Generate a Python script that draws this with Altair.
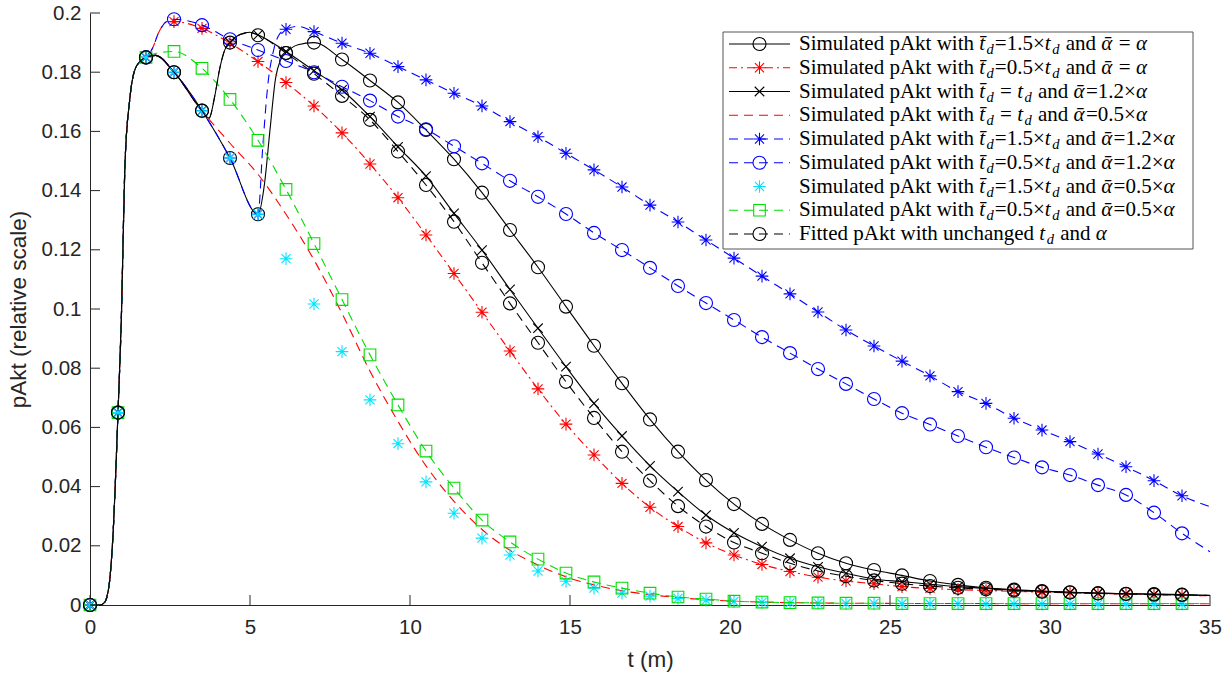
import altair as alt
import pandas as pd

# ---------------- data ----------------
T_MARK = [0.0, 0.875, 1.75, 2.625, 3.5, 4.375, 5.25, 6.125, 7.0, 7.875,
          8.75, 9.625, 10.5, 11.375, 12.25, 13.125, 14.0, 14.875, 15.75, 16.625,
          17.5, 18.375, 19.25, 20.125, 21.0, 21.875, 22.75, 23.625, 24.5, 25.375,
          26.25, 27.125, 28.0, 28.875, 29.75, 30.625, 31.5, 32.375, 33.25, 34.125]
T_END = 35.0
X_TICKS = [0, 5, 10, 15, 20, 25, 30, 35]
Y_TICKS = [0, 0.02, 0.04, 0.06, 0.08, 0.1, 0.12, 0.14, 0.16, 0.18, 0.2]

# td=1.5, alpha
S1 = [0, 0.065, 0.185, 0.180, 0.167, 0.151, 0.132, 0.1865, 0.190, 0.1843,
      0.1772, 0.1698, 0.1605, 0.1506, 0.1393, 0.1267, 0.1141, 0.1008, 0.0876, 0.0749,
      0.0627, 0.0518, 0.0422, 0.0341, 0.0274, 0.0220, 0.0175, 0.0141, 0.0118, 0.0100,
      0.0081, 0.0068, 0.0058, 0.0052, 0.0047, 0.0043, 0.0040, 0.0038, 0.0037, 0.0035]
S1_END = 0.0033
# td=0.5, alpha
S2 = [0, 0.065, 0.185, 0.1971, 0.1948, 0.1898, 0.1836, 0.1765, 0.1686, 0.1595,
      0.149, 0.1376, 0.125, 0.112, 0.0989, 0.0858, 0.073, 0.0611, 0.0507, 0.0411,
      0.033, 0.0265, 0.021, 0.0169, 0.0137, 0.0113, 0.0094, 0.0081, 0.0072, 0.0062,
      0.0056, 0.0052, 0.0049, 0.0046, 0.0043, 0.0041, 0.0039, 0.0037, 0.0035, 0.0033]
S2_END = 0.0031
# td, 1.2 alpha
S3 = [0, 0.065, 0.185, 0.180, 0.167, 0.190, 0.1926, 0.187, 0.1805, 0.174,
      0.165, 0.1548, 0.1449, 0.1323, 0.1199, 0.1066, 0.0935, 0.0805, 0.0681, 0.0571,
      0.047, 0.0383, 0.0304, 0.0244, 0.0197, 0.0158, 0.0129, 0.0107, 0.0088, 0.0079,
      0.0070, 0.0062, 0.0056, 0.0050, 0.0046, 0.0043, 0.0040, 0.0038, 0.0036, 0.0034]
S3_END = 0.0032
# td, 0.5 alpha (line only)
S4 = [0, 0.065, 0.185, 0.180, 0.167, 0.156, 0.1455, 0.132, 0.1166, 0.0985,
      0.079, 0.062, 0.047, 0.035, 0.0255, 0.0185, 0.0135, 0.0095, 0.0068, 0.0048,
      0.0035, 0.0025, 0.0018, 0.0013, 0.001, 0.0008, 0.0007, 0.0006, 0.0006, 0.0005,
      0.0005, 0.0005, 0.0005, 0.0004, 0.0004, 0.0004, 0.0004, 0.0004, 0.0004, 0.0004]
S4_END = 0.0004
# td=1.5, 1.2 alpha
S5 = [0, 0.065, 0.185, 0.180, 0.167, 0.151, 0.132, 0.1945, 0.1937, 0.1898,
      0.1864, 0.1819, 0.1774, 0.1729, 0.1686, 0.1633, 0.1582, 0.1526, 0.147, 0.1412,
      0.1351, 0.1294, 0.1233, 0.1172, 0.1111, 0.1051, 0.099, 0.0929, 0.0875, 0.0824,
      0.0774, 0.0721, 0.0681, 0.0631, 0.0591, 0.0552, 0.051, 0.0467, 0.042, 0.0369]
S5_END = 0.0332
# td=0.5, 1.2 alpha
S6 = [0, 0.065, 0.185, 0.1979, 0.1959, 0.1911, 0.1875, 0.1838, 0.180, 0.1751,
      0.1704, 0.165, 0.1607, 0.155, 0.1492, 0.1433, 0.1379, 0.1321, 0.1257, 0.1199,
      0.1139, 0.1078, 0.102, 0.0963, 0.0905, 0.0851, 0.0797, 0.0747, 0.0696, 0.0648,
      0.061, 0.0571, 0.0533, 0.0498, 0.0465, 0.0439, 0.0405, 0.0372, 0.0312, 0.0242]
S6_END = 0.018
# td=1.5, 0.5 alpha (markers only)
S7 = [0, 0.065, 0.185, 0.180, 0.167, 0.151, 0.132, 0.117, 0.1017, 0.0856,
      0.0693, 0.0545, 0.0416, 0.031, 0.0226, 0.0169, 0.0115, 0.008, 0.0057, 0.004,
      0.003, 0.0022, 0.0016, 0.0012, 0.0009, 0.0007, 0.0006, 0.0005, 0.0005, 0.0004,
      0.0004, 0.0004, 0.0003, 0.0003, 0.0003, 0.0003, 0.0003, 0.0003, 0.0003, 0.0003]
# td=0.5, 0.5 alpha
S8 = [0, 0.065, 0.185, 0.187, 0.1813, 0.1708, 0.157, 0.1404, 0.1221, 0.1032,
      0.0845, 0.0676, 0.052, 0.0395, 0.0287, 0.0213, 0.0155, 0.0108, 0.0078, 0.0057,
      0.004, 0.0027, 0.002, 0.0013, 0.001, 0.0008, 0.0007, 0.0006, 0.0006, 0.0005,
      0.0005, 0.0005, 0.0005, 0.0005, 0.0005, 0.0005, 0.0005, 0.0005, 0.0005, 0.0005]
S8_END = 0.0005
# fitted
S9 = [0, 0.065, 0.185, 0.180, 0.167, 0.190, 0.1925, 0.1865, 0.1795, 0.172,
      0.1639, 0.1532, 0.1419, 0.1295, 0.1156, 0.1019, 0.0886, 0.0754, 0.0632, 0.0518,
      0.042, 0.0334, 0.0265, 0.0211, 0.0175, 0.0141, 0.0115, 0.0097, 0.0083, 0.0072,
      0.0064, 0.0058, 0.0053, 0.0049, 0.0045, 0.0042, 0.0039, 0.0037, 0.0035, 0.0034]
S9_END = 0.0032

# extra points read along the curves between markers (shape of the lines)
EARLY_T = [0.3, 0.45, 0.6, 0.72, 0.98, 1.09, 1.24, 1.45]
EARLY_V = [0.0, 0.0008, 0.007, 0.024, 0.097, 0.148, 0.1706, 0.182]
DECL_T = [2.05]
DECL_V = [0.1857]
S1_XT = [5.45, 5.62, 5.8, 5.95, 6.5]
S1_XV = [0.142, 0.160, 0.178, 0.184, 0.1893]
S2_XT = [1.95, 2.15, 2.4]
S2_XV = [0.188, 0.1935, 0.197]
S3_XT = [3.72, 3.9, 4.05, 4.2, 4.7, 5.0]
S3_XV = [0.1645, 0.172, 0.181, 0.1872, 0.1928, 0.1935]
S5_XT = [5.4, 5.55, 5.75, 5.9, 6.5]
S5_XV = [0.155, 0.175, 0.188, 0.1925, 0.1955]
S6_XT = [1.95, 2.15, 2.4]
S6_XV = [0.188, 0.1935, 0.1972]
S8_XT = [2.1]
S8_XV = [0.1865]
S9_XT = [3.72, 3.9, 4.05, 4.2, 4.7, 5.0]
S9_XV = [0.1645, 0.172, 0.181, 0.1872, 0.1927, 0.1934]

LEGEND_TOKENS = [
    [("Simulated pAkt with ", "r"), ("t\u0304", "i"), ("d", "s"), ("=1.5×", "r"), ("t", "i"), ("d", "s"),
     (" and ", "r"), ("α\u0304", "i"), (" = ", "r"), ("α", "i")],
    [("Simulated pAkt with ", "r"), ("t\u0304", "i"), ("d", "s"), ("=0.5×", "r"), ("t", "i"), ("d", "s"),
     (" and ", "r"), ("α\u0304", "i"), (" = ", "r"), ("α", "i")],
    [("Simulated pAkt with ", "r"), ("t\u0304", "i"), ("d", "s"), (" = ", "r"), ("t", "i"), ("d", "s"),
     (" and ", "r"), ("α\u0304", "i"), ("=1.2×", "r"), ("α", "i")],
    [("Simulated pAkt with ", "r"), ("t\u0304", "i"), ("d", "s"), (" = ", "r"), ("t", "i"), ("d", "s"),
     (" and ", "r"), ("α\u0304", "i"), ("=0.5×", "r"), ("α", "i")],
    [("Simulated pAkt with ", "r"), ("t\u0304", "i"), ("d", "s"), ("=1.5×", "r"), ("t", "i"), ("d", "s"),
     (" and ", "r"), ("α\u0304", "i"), ("=1.2×", "r"), ("α", "i")],
    [("Simulated pAkt with ", "r"), ("t\u0304", "i"), ("d", "s"), ("=0.5×", "r"), ("t", "i"), ("d", "s"),
     (" and ", "r"), ("α\u0304", "i"), ("=1.2×", "r"), ("α", "i")],
    [("Simulated pAkt with ", "r"), ("t\u0304", "i"), ("d", "s"), ("=1.5×", "r"), ("t", "i"), ("d", "s"),
     (" and ", "r"), ("α\u0304", "i"), ("=0.5×", "r"), ("α", "i")],
    [("Simulated pAkt with ", "r"), ("t\u0304", "i"), ("d", "s"), ("=0.5×", "r"), ("t", "i"), ("d", "s"),
     (" and ", "r"), ("α\u0304", "i"), ("=0.5×", "r"), ("α", "i")],
    [("Fitted pAkt with unchanged ", "r"), ("t", "i"), ("d", "s"), (" and ", "r"), ("α", "i")],
]

# ---------------- styles ----------------
BLACK, RED, BLUE, CYAN, GREEN = "#000000", "#ff0000", "#0000ff", "#00e5ff", "#00dd00"
AX = "#262626"
SANS = "Liberation Sans"
SERIF = "Liberation Serif"
STAR = "M-1,0L1,0M0,-1L0,1M-0.72,-0.72L0.72,0.72M-0.72,0.72L0.72,-0.72"
XMARK = "M-1,-1L1,1M-1,1L1,-1"
DASH = [9, 6]
DASHDOT = [8, 4, 2, 4]
SIZES = {"circle": 170, STAR: 160, XMARK: 90, "square": 135}
TICK_LEN = 10

SERIES = [
    dict(v=S1, end=S1_END, xt=DECL_T + S1_XT, xv=DECL_V + S1_XV, color=BLACK, dash=None, shape="circle", line=True),
    dict(v=S2, end=S2_END, xt=S2_XT, xv=S2_XV, color=RED, dash=DASHDOT, shape=STAR, line=True),
    dict(v=S3, end=S3_END, xt=DECL_T + S3_XT, xv=DECL_V + S3_XV, color=BLACK, dash=None, shape=XMARK, line=True),
    dict(v=S4, end=S4_END, xt=DECL_T, xv=DECL_V, color=RED, dash=DASH, shape=None, line=True),
    dict(v=S5, end=S5_END, xt=DECL_T + S5_XT, xv=DECL_V + S5_XV, color=BLUE, dash=DASH, shape=STAR, line=True),
    dict(v=S6, end=S6_END, xt=S6_XT, xv=S6_XV, color=BLUE, dash=DASH, shape="circle", line=True),
    dict(v=S7, end=None, xt=[], xv=[], color=CYAN, dash=None, shape=STAR, line=False),
    dict(v=S8, end=S8_END, xt=S8_XT, xv=S8_XV, color=GREEN, dash=DASH, shape="square", line=True),
    dict(v=S9, end=S9_END, xt=DECL_T + S9_XT, xv=DECL_V + S9_XV, color=BLACK, dash=DASH, shape="circle", line=True),
]
for s in SERIES:
    assert len(s["v"]) == len(T_MARK)

W, H = 1120, 592
xs = alt.Scale(domain=[0, 35], nice=False, zero=False)
ys = alt.Scale(domain=[0, 0.2], nice=False, zero=False)
XN = alt.X("t:Q", scale=xs, axis=None)
YN = alt.Y("v:Q", scale=ys, axis=None)

layers = []

# axis carrier (labels, domain, titles)
axis_df = pd.DataFrame({"t": T_MARK, "v": S1})
layers.append(
    alt.Chart(axis_df).mark_point(opacity=0).encode(
        x=alt.X("t:Q", scale=xs, axis=alt.Axis(
            values=X_TICKS, title="t (m)", grid=False, ticks=False, domain=True,
            domainColor=AX, domainWidth=1, labelFont=SANS, labelFontSize=20.5, labelColor=AX,
            labelPadding=12, labelFlush=False, labelOverlap=False,
            titleFont=SANS, titleFontSize=22.5, titleFontWeight="normal", titleColor=AX,
            titleX=W / 2, titleY=54, titleAlign="center", titleBaseline="middle")),
        y=alt.Y("v:Q", scale=ys, axis=alt.Axis(
            values=Y_TICKS, format=".2~f", title="pAkt (relative scale)", grid=False, ticks=False,
            domain=True, domainColor=AX, domainWidth=1, labelFont=SANS, labelFontSize=20.5,
            labelColor=AX, labelPadding=9, labelFlush=False, labelOverlap=False,
            titleFont=SANS, titleFontSize=22.5, titleFontWeight="normal", titleColor=AX,
            titleX=-72, titleY=H / 2, titleAlign="center", titleBaseline="middle")),
    )
)
# inward ticks (MATLAB style), positioned through the scales
layers.append(
    alt.Chart(pd.DataFrame({"t": X_TICKS})).mark_rule(color=AX, strokeWidth=1).encode(
        x=alt.X("t:Q", scale=xs, axis=None), y=alt.value(H - TICK_LEN), y2=alt.value(H)))
layers.append(
    alt.Chart(pd.DataFrame({"v": Y_TICKS})).mark_rule(color=AX, strokeWidth=1).encode(
        y=alt.Y("v:Q", scale=ys, axis=None), x=alt.value(0), x2=alt.value(TICK_LEN)))

for s in SERIES:
    if s["line"]:
        lt = T_MARK + [T_END] + EARLY_T + s["xt"]
        lv = s["v"] + [s["end"]] + EARLY_V + s["xv"]
        ldf = pd.DataFrame({"t": lt, "v": lv}).sort_values("t")
        mk = dict(color=s["color"], strokeWidth=1.1, interpolate="monotone")
        if s["dash"]:
            mk["strokeDash"] = s["dash"]
        layers.append(alt.Chart(ldf).mark_line(**mk).encode(x=XN, y=YN))
    if s["shape"]:
        pdf = pd.DataFrame({"t": T_MARK, "v": s["v"]})
        layers.append(alt.Chart(pdf).mark_point(
            shape=s["shape"], size=SIZES[s["shape"]], filled=False, color=s["color"],
            strokeWidth=1.1, opacity=1).encode(x=XN, y=YN))

# ---------------- legend ----------------
BOX = pd.DataFrame({"x0": [633], "x1": [1103], "y0": [19], "y1": [236]})
layers.append(alt.Chart(BOX).mark_rect(fill="white", stroke="#555555", strokeWidth=1).encode(
    x=alt.X("x0:Q", scale=None, axis=None), x2="x1:Q",
    y=alt.Y("y0:Q", scale=None, axis=None), y2="y1:Q"))

ROW0, ROWD = 31, 23.75
LX0, LX1, LM, TX = 639, 700, 669.5, 709
for i, s in enumerate(SERIES):
    yy = ROW0 + ROWD * i
    if s["line"]:
        mk = dict(color=s["color"], strokeWidth=1.1)
        if s["dash"]:
            mk["strokeDash"] = s["dash"]
        layers.append(alt.Chart(pd.DataFrame({"a": [LX0], "b": [LX1], "y": [yy]})).mark_rule(**mk).encode(
            x=alt.X("a:Q", scale=None, axis=None), x2="b:Q", y=alt.Y("y:Q", scale=None, axis=None)))
    if s["shape"]:
        layers.append(alt.Chart(pd.DataFrame({"a": [LM], "y": [yy]})).mark_point(
            shape=s["shape"], size=SIZES[s["shape"]], filled=False, color=s["color"],
            strokeWidth=1.1, opacity=1).encode(
            x=alt.X("a:Q", scale=None, axis=None), y=alt.Y("y:Q", scale=None, axis=None)))

FS, FS_SUB = 21, 14.5
W_R = {' ': 250, 'S': 556, 'i': 278, 'm': 778, 'u': 500, 'l': 278, 'a': 444, 't': 278, 'e': 444,
       'd': 500, 'p': 500, 'A': 722, 'k': 500, 'w': 722, 'h': 500, 'n': 500, '=': 564, '×': 564,
       '.': 250, 'F': 556, 'c': 444, 'g': 500}
W_I = {'t': 278, 'd': 500, 'α': 520, '\u0304': 0}


def tw(txt, kind):
    if kind == "r":
        return sum(W_R.get(c, 500) for c in txt) / 1000 * FS
    if kind == "i":
        return sum(W_I.get(c, 500) for c in txt) / 1000 * FS + 1.5
    return sum(W_I.get(c, 500) for c in txt) / 1000 * FS_SUB + 1


pieces = {"r": [], "i": [], "s": []}
for i, toks in enumerate(LEGEND_TOKENS):
    yy = ROW0 + ROWD * i
    x = TX
    for txt, kind in toks:
        lead = len(txt) - len(txt.lstrip(" "))
        pieces[kind].append({"x": x + lead * W_R[' '] / 1000 * FS,
                             "y": yy + (6 if kind == "s" else 0), "txt": txt.strip()})
        x += tw(txt, kind)

for kind, size, style in [("r", FS, "normal"), ("i", FS, "italic"), ("s", FS_SUB, "italic")]:
    layers.append(alt.Chart(pd.DataFrame(pieces[kind])).mark_text(
        align="left", baseline="middle", font=SERIF, fontSize=size, fontStyle=style, color="black").encode(
        x=alt.X("x:Q", scale=None, axis=None), y=alt.Y("y:Q", scale=None, axis=None), text="txt:N"))

chart = alt.layer(*layers).resolve_axis(x="independent", y="independent").properties(
    width=W, height=H,
    autosize=alt.AutoSizeParams(type="none"),
    padding={"left": 90, "top": 13, "right": 22, "bottom": 72},
).configure_view(strokeWidth=0)

chart.save("out.html", embed_options={"renderer": "svg", "actions": False})
